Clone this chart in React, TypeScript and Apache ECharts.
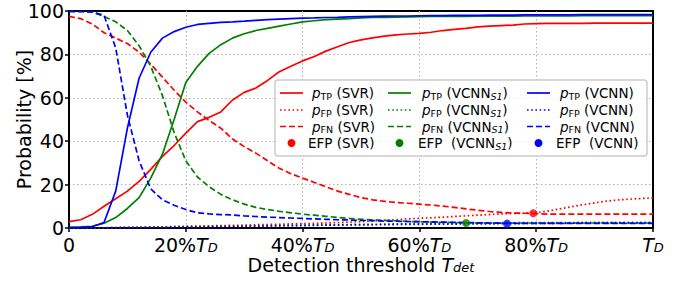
import React, { useEffect, useRef } from "react";
import * as echarts from "echarts";

const thresholds = [0, 2, 4, 6, 8, 10, 12, 14, 16, 18, 20, 22, 24, 26, 28, 30, 32, 34, 36, 38, 40, 42, 44, 46, 48, 50, 52, 54, 56, 58, 60, 62, 64, 66, 68, 70, 72, 74, 76, 78, 80, 82, 84, 86, 88, 90, 92, 94, 96, 98, 100];

const svrTP = [2.9, 3.8, 6.3, 10, 13.5, 17, 21.5, 27, 33, 38, 43.7, 49, 51, 53.5, 59, 62.5, 64.5, 68, 72, 74.5, 77, 79, 81.5, 83.5, 85.5, 86.7, 87.6, 88.4, 89, 89.4, 89.7, 90.2, 91, 91.5, 92, 92.7, 93, 93.3, 93.5, 94, 94.2, 94.3, 94.3, 94.3, 94.3, 94.4, 94.4, 94.4, 94.4, 94.4, 94.4];
const svrFP = [0, 0, 0.1, 0.1, 0.2, 0.2, 0.3, 0.4, 0.5, 0.7, 0.8, 0.9, 1, 1.1, 1.2, 1.3, 1.5, 1.6, 1.7, 1.9, 2, 2.1, 2.3, 2.5, 2.7, 3, 3.2, 3.5, 3.8, 4.2, 4.5, 4.7, 5, 5.3, 5.6, 5.9, 6.2, 6.5, 6.7, 6.8, 7.1, 7.8, 8.8, 9.8, 10.7, 11.6, 12.4, 12.9, 13.3, 13.6, 13.8];
const svrFN = [97.5, 96.5, 94, 90, 87.5, 85, 81, 75.5, 69.5, 63.5, 58, 53.5, 49.5, 46, 41, 37.5, 34.5, 31, 27.5, 25, 23, 21, 19, 17, 15.5, 14, 13, 12.3, 11.8, 11.4, 11, 10.6, 10.1, 9.5, 8.8, 8.2, 7.6, 7.2, 6.9, 6.8, 6.6, 6.4, 6.4, 6.4, 6.4, 6.4, 6.4, 6.4, 6.4, 6.4, 6.4];

const s1TP = [0.3, 0.5, 0.8, 2.2, 4.8, 9, 14, 23, 34, 50, 67, 74.5, 80.5, 84.5, 87.5, 89.5, 91, 92, 93, 94, 95, 95.5, 96, 96.3, 96.5, 96.8, 97, 97.1, 97.2, 97.3, 97.4, 97.5, 97.5, 97.5, 97.5, 97.6, 97.6, 97.6, 97.6, 97.7, 97.7, 97.7, 97.7, 97.7, 97.8, 97.8, 97.8, 97.8, 97.8, 97.8, 97.8];
const s1FP = [0, 0, 0.1, 0.1, 0.2, 0.3, 0.3, 0.4, 0.4, 0.5, 0.6, 0.6, 0.7, 0.8, 0.8, 0.9, 1, 1.1, 1.2, 1.2, 1.3, 1.4, 1.4, 1.5, 1.6, 1.7, 1.7, 1.8, 1.9, 1.9, 2, 2.1, 2.1, 2.2, 2.3, 2.3, 2.4, 2.4, 2.4, 2.5, 2.5, 2.5, 2.5, 2.5, 2.6, 2.6, 2.6, 2.6, 2.6, 2.6, 2.6];
const s1FN = [99.8, 99.7, 99.5, 97.5, 95, 91, 84, 74.5, 61, 44, 31, 23.5, 19, 15.5, 13, 11, 9.5, 8.5, 7.7, 7, 6.4, 5.9, 5.4, 4.9, 4.4, 4, 3.8, 3.5, 3.3, 3, 2.9, 2.7, 2.6, 2.5, 2.4, 2.4, 2.4, 2.3, 2.3, 2.3, 2.3, 2.3, 2.3, 2.3, 2.3, 2.3, 2.3, 2.3, 2.3, 2.3, 2.3];

const vcnnTP = [0.2, 0.3, 0.7, 2.5, 17, 46, 69, 81, 87.5, 90.5, 92.5, 93.8, 94.3, 94.8, 95, 95.3, 95.7, 96, 96.3, 96.5, 96.7, 96.8, 97, 97.1, 97.3, 97.4, 97.5, 97.6, 97.7, 97.7, 97.8, 97.9, 97.9, 98, 98, 98, 98.1, 98.1, 98.1, 98.2, 98.2, 98.2, 98.2, 98.2, 98.3, 98.3, 98.3, 98.3, 98.3, 98.3, 98.3];
const vcnnFP = [0, 0, 0, 0.1, 0.1, 0.2, 0.2, 0.3, 0.3, 0.4, 0.5, 0.5, 0.6, 0.7, 0.7, 0.8, 0.9, 0.9, 1, 1.1, 1.1, 1.2, 1.3, 1.3, 1.4, 1.4, 1.5, 1.5, 1.6, 1.7, 1.7, 1.8, 1.8, 1.8, 1.9, 1.9, 1.9, 2, 2, 2.1, 2.1, 2.1, 2.1, 2.2, 2.2, 2.2, 2.2, 2.2, 2.3, 2.3, 2.3];
const vcnnFN = [99.8, 99.8, 99.5, 98, 83, 52, 31, 18, 13, 10.5, 8.5, 7, 6.5, 6.2, 6, 5.6, 5.3, 5, 4.8, 4.6, 4.4, 4.2, 4, 3.8, 3.7, 3.5, 3.4, 3.2, 3.1, 3, 2.9, 2.8, 2.7, 2.6, 2.5, 2.4, 2.3, 2.2, 2.2, 2.1, 2.1, 2.1, 2.1, 2.1, 2.1, 2.1, 2.1, 2.1, 2.1, 2.1, 2.1];

const efpSVR = [79.5, 6.8];
const efpS1 = [68, 2.3];
const efpVCNN = [75, 2.0];

const xTicks = [0, 20, 40, 60, 80, 100];
const yTicks = [0, 20, 40, 60, 80, 100];

const RED = "#ff0000";
const GREEN = "#008000";
const BLUE = "#0000ff";
const FONT = "DejaVu Sans";
const DASH = [6, 3];
const DOT = [1.6, 2.6];

function pair(vals: number[]) {
  return thresholds.map((x, i) => [x, vals[i]]);
}

function lineSeries(name: string, vals: number[], color: string, type: any) {
  return {
    name,
    type: "line",
    data: pair(vals),
    symbol: "none",
    showSymbol: false,
    lineStyle: { color, width: 1.7, type },
    itemStyle: { color },
    z: 3,
  };
}

const subRich = {
  i: { fontFamily: FONT, fontSize: 13.5, fontStyle: "italic", color: "#000", lineHeight: 16 },
  s: { fontFamily: FONT, fontSize: 9.5, color: "#000", lineHeight: 9, verticalAlign: "bottom" },
  si: { fontFamily: FONT, fontSize: 9.5, fontStyle: "italic", color: "#000", lineHeight: 9, verticalAlign: "bottom" },
  n: { fontFamily: FONT, fontSize: 13.5, color: "#000", lineHeight: 16 },
};

export default function App() {
  const ref = useRef<HTMLDivElement>(null);
  useEffect(() => {
    document.body.style.margin = "0";
    const chart = echarts.init(ref.current!, null, { renderer: "svg" });

    const rowsY = [93, 110, 126.5, 143];
    const cols = [
      { hx: 280, tx: 312, color: RED, name: "(SVR)" },
      { hx: 388, tx: 422, color: GREEN, name: "S1" },
      { hx: 527, tx: 560, color: BLUE, name: "(VCNN)" },
    ];
    const kinds = [
      { sub: "TP", dash: null },
      { sub: "FP", dash: DOT },
      { sub: "FN", dash: DASH },
    ];
    const legendEls: any[] = [
      {
        type: "rect",
        shape: { x: 275, y: 80, width: 372, height: 76, r: 3 },
        style: { fill: "rgba(255,255,255,0.85)", stroke: "#cccccc", lineWidth: 1.5 },
        z: 10,
      },
      {
        type: "text",
        x: 23.5,
        y: 119.5,
        rotation: Math.PI / 2,
        style: {
          text: "Probability [%]",
          font: `19px "${FONT}"`,
          fill: "#000",
          align: "center",
          verticalAlign: "middle",
        },
        z: 11,
      },
    ];
    cols.forEach((c, ci) => {
      kinds.forEach((k, ki) => {
        const y = rowsY[ki];
        legendEls.push({
          type: "line",
          shape: { x1: c.hx, y1: y, x2: c.hx + 23, y2: y },
          style: { stroke: c.color, lineWidth: 1.7, lineDash: k.dash || undefined },
          z: 11,
        });
        const label =
          ci === 1
            ? `{i|p}{s|${k.sub}}{n| (VCNN}{si|S1}{n|)}`
            : `{i|p}{s|${k.sub}}{n| ${c.name}}`;
        legendEls.push({
          type: "text",
          x: c.tx,
          y,
          style: { text: label, rich: subRich, verticalAlign: "middle", align: "left" },
          z: 11,
        });
      });
      legendEls.push({
        type: "circle",
        shape: { cx: c.hx + 11.5, cy: rowsY[3], r: 4 },
        style: { fill: c.color },
        z: 11,
      });
      const efpLabel =
        ci === 0 ? "{n|EFP (SVR)}" : ci === 1 ? "{n|EFP  (VCNN}{si|S1}{n|)}" : "{n|EFP  (VCNN)}";
      legendEls.push({
        type: "text",
        x: c.tx - 4,
        y: rowsY[3],
        style: { text: efpLabel, rich: subRich, verticalAlign: "middle", align: "left" },
        z: 11,
      });
    });

    const axisRich = {
      n: { fontFamily: FONT, fontSize: 19, color: "#000", lineHeight: 19 },
      t: { fontFamily: FONT, fontSize: 19, fontStyle: "italic", color: "#000", lineHeight: 19 },
      d: { fontFamily: FONT, fontSize: 13, fontStyle: "italic", color: "#000", lineHeight: 10, verticalAlign: "bottom" },
    };
    const splitLine = {
      show: true,
      showMinLine: false,
      showMaxLine: false,
      lineStyle: { color: "#b0b0b0", width: 1, type: [1.5, 2.5] },
    };

    chart.setOption({
      animation: false,
      backgroundColor: "#fff",
      grid: {
        left: 69,
        right: 32,
        top: 11,
        bottom: 54,
        containLabel: false,
        outerBoundsMode: "none",
        show: true,
        borderColor: "#000",
        borderWidth: 2,
        backgroundColor: "transparent",
      },
      xAxis: {
        type: "value",
        min: 0,
        max: 100,
        interval: 20,
        name: "{n|Detection threshold }{t|T}{d|det}",
        nameLocation: "middle",
        nameGap: 27,
        nameMoveOverlap: false,
        nameTextStyle: { rich: axisRich },
        axisLine: { show: true, lineStyle: { color: "#000", width: 2 } },
        axisTick: { show: true, length: 4, lineStyle: { color: "#000", width: 1.5 } },
        axisLabel: {
          showMinLabel: true,
          showMaxLabel: true,
          margin: 7,
          rich: axisRich,
          formatter: (v: number) => {
            if (v === xTicks[0]) return "{n|0}";
            if (v === xTicks[xTicks.length - 1]) return "{t|T}{d|D}";
            return `{n|${v}%}{t|T}{d|D}`;
          },
        },
        splitLine,
      },
      yAxis: {
        type: "value",
        min: 0,
        max: 100,
        interval: 20,
        axisLine: { show: true, lineStyle: { color: "#000", width: 2 } },
        axisTick: { show: true, length: 4, lineStyle: { color: "#000", width: 1.5 } },
        axisLabel: {
          fontFamily: FONT,
          fontSize: 19,
          color: "#000",
          margin: 5,
          formatter: (v: number) => (yTicks.includes(v) ? String(v) : ""),
        },
        splitLine,
      },
      series: [
        lineSeries("pTP (SVR)", svrTP, RED, "solid"),
        lineSeries("pFP (SVR)", svrFP, RED, DOT),
        lineSeries("pFN (SVR)", svrFN, RED, DASH),
        lineSeries("pTP (VCNN_S1)", s1TP, GREEN, "solid"),
        lineSeries("pFP (VCNN_S1)", s1FP, GREEN, DOT),
        lineSeries("pFN (VCNN_S1)", s1FN, GREEN, DASH),
        lineSeries("pTP (VCNN)", vcnnTP, BLUE, "solid"),
        lineSeries("pFP (VCNN)", vcnnFP, BLUE, DOT),
        lineSeries("pFN (VCNN)", vcnnFN, BLUE, DASH),
        { name: "EFP (SVR)", type: "scatter", data: [efpSVR], symbolSize: 8, itemStyle: { color: RED }, z: 5 },
        { name: "EFP (VCNN_S1)", type: "scatter", data: [efpS1], symbolSize: 8, itemStyle: { color: GREEN }, z: 5 },
        { name: "EFP (VCNN)", type: "scatter", data: [efpVCNN], symbolSize: 8, itemStyle: { color: BLUE }, z: 5 },
      ],
      graphic: legendEls,
    });
    return () => chart.dispose();
  }, []);
  return <div ref={ref} style={{ width: 685, height: 282 }} />;
}
